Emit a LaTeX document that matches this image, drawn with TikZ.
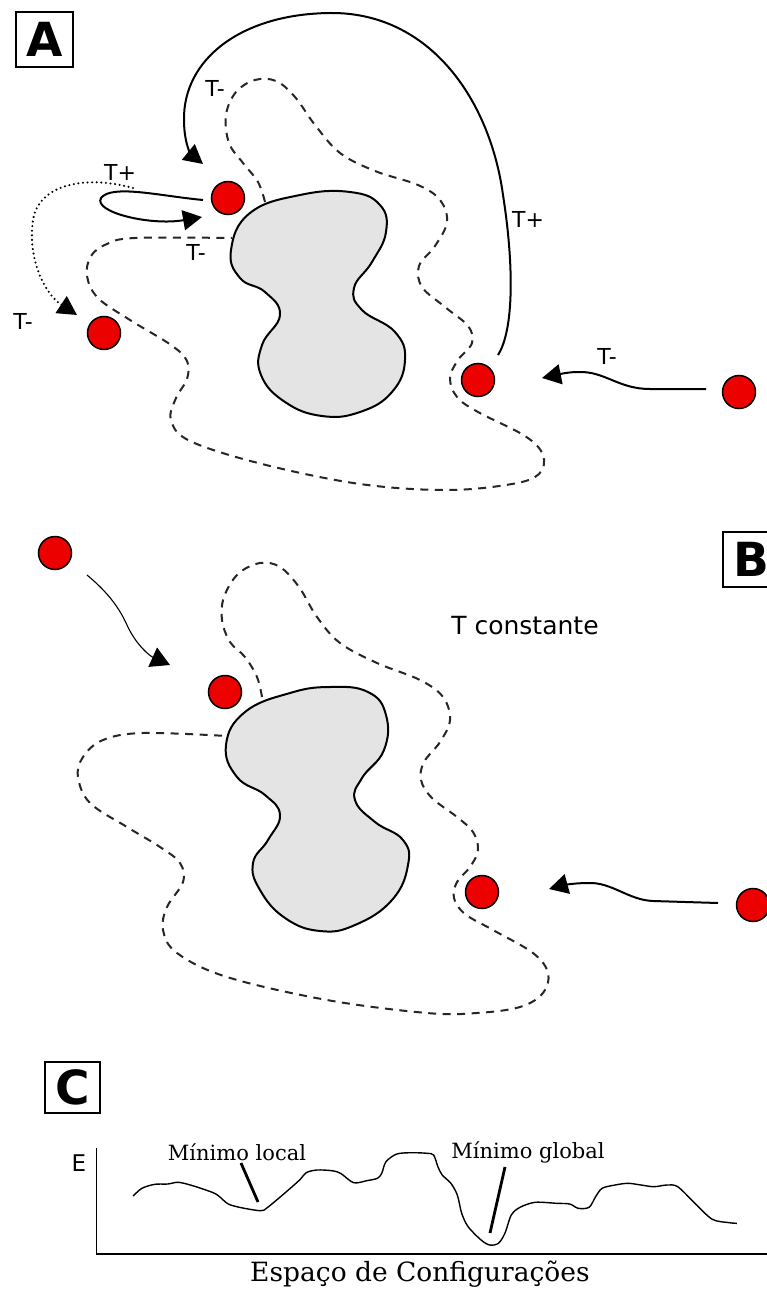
\documentclass[tikz,border=0pt]{standalone}
\usepackage{fontspec}
\setmainfont{DejaVu Sans}
\newfontfamily\serifc{DejaVu Serif}
\usetikzlibrary{arrows.meta,calc}

\tikzset{
  ball/.style={circle, draw=black, fill={rgb,255:red,236;green,0;blue,0}, minimum size=33pt, inner sep=0pt, line width=1.5pt},
  blob/.style={draw=black, fill={rgb,255:red,228;green,228;blue,228}, line width=2pt},
  region/.style={draw=black!85, line width=2pt, dash pattern=on 8pt off 6.5pt},
  move/.style={draw=black, line width=2pt, -{Triangle[length=19pt,width=20pt]}},
  thinmove/.style={draw=black, line width=1.1pt, -{Triangle[length=19pt,width=21pt]}},
  dotmove/.style={draw=black, line width=2.3pt, dash pattern=on 0pt off 4.6pt, line cap=round, -{Triangle[length=19pt,width=20pt]}},
  lbl/.style={font=\fontsize{22}{26}\selectfont, inner sep=0pt},
  panel/.style={draw=black, line width=2.7pt, inner sep=0pt, font=\fontsize{47}{50}\selectfont\bfseries},
  annot/.style={font=\serifc\fontsize{21}{24}\selectfont, inner sep=0pt},
}

\begin{document}
\begin{tikzpicture}[x=1pt,y=-1pt]
\fill[white] (0,0) rectangle (767,1289);
\useasboundingbox (0,0) rectangle (767,1289);

% ---------------- panel A ----------------
\node[panel, minimum width=57pt, minimum height=55pt] (pa) at (44.5,39.5) {A};

\draw[blob] plot[smooth cycle, tension=0.75] coordinates {
 (231,250) (250,213) (300,195) (350,192) (380,205) (386,232) (372,262) (354,288)
 (362,310) (395,332) (405,360) (392,392) (360,412) (322,416) (285,402) (261,375)
 (262,345) (280,315) (265,292) (240,278)};

\draw[region] plot[smooth, tension=0.6] coordinates {
 (265,202) (258,182) (243,163) (229,143) (226,115) (236,92) (255,80) (276,81)
 (295,97) (315,125) (340,153) (375,171) (418,185) (440,200) (447,222) (435,246)
 (419,266) (422,287) (445,307) (468,326) (472,343) (458,360) (450,378) (457,397)
 (478,412) (525,436) (543,455) (539,474) (512,484) (447,490) (360,484) (262,464)
 (190,441) (171,420) (176,398) (187,379) (187,361) (171,345) (130,320) (98,298)
 (87,276) (91,256) (107,244) (135,238) (232,238)};

\node[ball] (a1) at (228,198) {};
\node[ball] (a2) at (104,333) {};
\node[ball] (a3) at (478,380) {};
\node[ball] (a4) at (739,392) {};

% long jump over the barrier
\draw[move] ($(a3)+(20,-25)$) .. controls (514,330) and (514,265) .. (503,195)
  .. controls (490,100) and (430,12) .. (330,13)
  .. controls (240,14) and (183,60) .. (184,120)
  .. controls (184,145) and (192,155) .. ($(a1)+(-25,-34)$);
% short excursion and return
\draw[move] ($(a1)+(-25,2)$) .. controls (160,196) and (112,184) .. (101,198)
  .. controls (93,212) and (150,226) .. ($(a1)+(-26,19)$);
% dotted hop
\coordinate (dstart) at (133,188);
\draw[dotmove] (dstart) .. controls (90,176) and (44,182) .. (34,215)
  .. controls (26,252) and (42,292) .. ($(a2)+(-27,-18)$);
% incoming walker
\draw[move] ($(a4)+(-33,-3)$) -- (650,389) .. controls (618,389) and (605,371) .. (578,372)
  .. controls (565,372) and (552,376) .. ($(a3)+(64,-2)$);

\node[lbl] (t1) at (215,88) {T-};
\node[lbl] (t2) at (120,172) {T+};
\node[lbl] (t3) at (196,252) {T-};
\node[lbl] (t4) at (23,321) {T-};
\node[lbl] (t5) at (528,219) {T+};
\node[lbl] (t6) at (607,356) {T-};

% ---------------- panel B ----------------
\node[panel, minimum width=57pt, minimum height=55pt] (pb) at (751.5,559.5) {B};

\draw[blob] plot[smooth cycle, tension=0.75] coordinates {
 (226,745) (245,712) (290,693) (330,687) (368,692) (386,715) (384,750) (362,778)
 (355,800) (375,822) (403,840) (408,865) (392,900) (355,925) (320,931) (285,918)
 (260,890) (253,863) (268,840) (280,815) (265,795) (237,777)};

\draw[region] plot[smooth, tension=0.6] coordinates {
 (262,697) (257,677) (245,657) (230,642) (222,620) (224,597) (238,574) (260,563)
 (280,567) (299,587) (317,617) (340,643) (377,663) (420,680) (443,697) (450,720)
 (440,742) (424,762) (421,780) (432,798) (457,817) (473,832) (478,850) (470,867)
 (457,882) (454,898) (465,914) (493,930) (533,953) (548,973) (543,993) (520,1007)
 (477,1013) (427,1013) (327,1000) (227,977) (177,953) (163,930) (167,907) (183,882)
 (180,863) (160,847) (127,827) (90,803) (78,777) (83,757) (103,740) (143,733) (227,736)};

\node[ball] (b1) at (55,553) {};
\node[ball] (b2) at (225,692) {};
\node[ball] (b3) at (482,892) {};
\node[ball] (b4) at (753,905) {};

\draw[thinmove] ($(b1)+(32,22)$) .. controls (105,590) and (118,605) .. (127,625)
  .. controls (136,645) and (150,656) .. ($(b2)+(-55,-27)$);
\draw[move] ($(b4)+(-35,-2)$) -- (653,901) .. controls (628,900) and (612,882) .. (588,883)
  .. controls (572,883) and (560,886) .. ($(b3)+(67,-3)$);

\node[font=\fontsize{25}{28}\selectfont, inner sep=0pt] (tc) at (525,626) {T constante};

% ---------------- panel C ----------------
\node[panel, minimum width=55pt, minimum height=51pt] (pc) at (72.5,1087.5) {C};

\coordinate (ytop) at (96.5,1148);
\coordinate (orig) at (96.5,1254);
\coordinate (xend) at (770,1254);
\draw[line width=1.5pt] (ytop) -- (orig) -- (xend);
\node[font=\fontsize{23}{26}\selectfont, inner sep=0pt] (E) at (79,1163) {E};

\draw[line width=1.4pt, line join=round] plot[smooth, tension=0.5] coordinates {
 (133.2,1196) (141.9,1188.3) (154.8,1184.3) (167.8,1184) (178.6,1182.3) (193.7,1186)
 (213.2,1192.7) (219.6,1196.7) (228.3,1204) (241.3,1207.7) (260.7,1210.7) (267.2,1207.7)
 (284.5,1193.3) (299.6,1180) (306.1,1172.7) (316.9,1170) (332,1170.7) (340.6,1173.3)
 (353.6,1182.7) (366.6,1180.7) (377.4,1178.3) (381.7,1173.3) (386,1161.7) (396.8,1154)
 (412,1152.7) (427.1,1153.3) (433.6,1155) (437.9,1166.7) (442.2,1175) (450.9,1183.3)
 (457.3,1195) (461.7,1213.3) (468.1,1226.7) (481.1,1240) (489.7,1245) (498.4,1243.3)
 (504.9,1233.3) (511.3,1215) (520,1207.3) (535.1,1202.3) (556.7,1203.3) (569.7,1204)
 (578.3,1208.3) (589.1,1207.3) (595.6,1196.7) (602.1,1188.3) (615.1,1185) (628,1183.3)
 (641,1185) (654,1186.7) (666.9,1185) (677.7,1186.7) (695,1203.3) (712.3,1219.3)
 (729.6,1222.7) (736.9,1223.3)};

\node[annot] (loc) at (237,1152) {Mínimo local};
\node[annot] (glob) at (528,1152) {Mínimo global};
\coordinate (locp) at (241,1163);
\coordinate (locq) at (258,1202);
\coordinate (globp) at (505,1167);
\coordinate (globq) at (490,1233);
\draw[line width=2.8pt] (locp) -- (locq);
\draw[line width=2.8pt] (globp) -- (globq);

\node[font=\serifc\fontsize{26.5}{30}\selectfont, inner sep=0pt] (xlab) at (420,1274) {Espaço de Configurações};
\end{tikzpicture}
\end{document}
